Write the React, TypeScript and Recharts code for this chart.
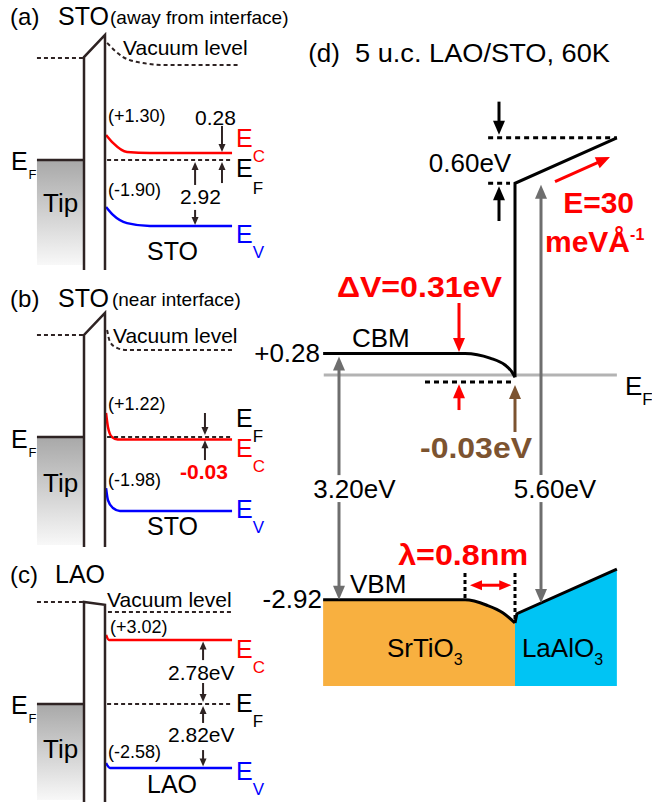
import React from 'react';
import {
  ComposedChart,
  Line,
  Area,
  XAxis,
  YAxis,
  ReferenceLine,
  ReferenceArea,
  ReferenceDot,
} from 'recharts';

const FONT = '"Liberation Sans", Arial, Helvetica, sans-serif';

// ---------------- Panel (d): distance d (nm, LAO/STO interface at 0) vs energy e (eV, EF = 0)
const dCbmSto = [
  { d: -3.07, e: 0.28 },
  { d: -0.8, e: 0.28 },
  { d: -0.4, e: 0.22 },
  { d: -0.16, e: 0.13 },
  { d: -0.05, e: 0.04 },
  { d: 0, e: -0.03 },
];
const dCbLao = [
  { d: 0, e: -0.03 },
  { d: 0, e: 2.49 },
  { d: 1.63, e: 3.08 },
];
const dValence = [
  { d: -3.07, sto: -2.92 },
  { d: -0.8, sto: -2.92 },
  { d: -0.45, sto: -2.99 },
  { d: -0.19, sto: -3.09 },
  { d: 0, sto: -3.22, lao: -3.22 },
  { d: 0.03, lao: -3.1 },
  { d: 1.63, lao: -2.52 },
];
const dFillBottom = -4.04;

// ---------------- Panel (a): STO away from interface
const aBarrier = [
  { d: 0, e: -4.58 },
  { d: 0, e: 4.29 },
  { d: 1, e: 5.21 },
  { d: 1, e: -4.58 },
];
const aVacuum = [
  { d: 1.1, e: 4.88 },
  { d: 1.86, e: 4.29 },
  { d: 2.81, e: 4.04 },
  { d: 3.86, e: 3.96 },
  { d: 7.43, e: 3.96 },
];
const aEc = [
  { d: 1.05, e: 1.04 },
  { d: 1.38, e: 0.71 },
  { d: 2.05, e: 0.33 },
  { d: 3.14, e: 0.29 },
  { d: 7.05, e: 0.29 },
];
const aEv = [
  { d: 1.05, e: -1.96 },
  { d: 1.38, e: -2.29 },
  { d: 2.05, e: -2.63 },
  { d: 3.14, e: -2.75 },
  { d: 7.05, e: -2.75 },
];

// ---------------- Panel (b): STO near interface
const bBarrier = [
  { d: 0, e: -4.58 },
  { d: 0, e: 4.25 },
  { d: 1, e: 5.17 },
  { d: 1, e: -4.58 },
];
const bVacuum = [
  { d: 1.1, e: 4.46 },
  { d: 1.24, e: 3.96 },
  { d: 1.57, e: 3.71 },
  { d: 1.95, e: 3.63 },
  { d: 7.05, e: 3.63 },
];
const bEc = [
  { d: 1.05, e: 1.0 },
  { d: 1.14, e: 0.42 },
  { d: 1.33, e: 0.0 },
  { d: 1.6, e: -0.1 },
  { d: 7.05, e: -0.1 },
];
const bEv = [
  { d: 1.05, e: -2.13 },
  { d: 1.14, e: -2.63 },
  { d: 1.38, e: -2.96 },
  { d: 1.71, e: -3.08 },
  { d: 7.05, e: -3.08 },
];

// ---------------- Panel (c): LAO
const cBarrier = [
  { d: 0, e: -4.08 },
  { d: 0, e: 4.25 },
  { d: 1, e: 4.13 },
  { d: 1, e: -4.08 },
];
const cVacuum = [
  { d: 1.14, e: 3.83 },
  { d: 7.05, e: 3.83 },
];
const cEc = [
  { d: 1.05, e: 2.88 },
  { d: 1.19, e: 2.67 },
  { d: 7.05, e: 2.67 },
];
const cEv = [
  { d: 1.05, e: -2.46 },
  { d: 1.24, e: -2.67 },
  { d: 7.05, e: -2.67 },
];

// ---------------- helpers
const DARK = '#2e2323';
const RED = '#ff0000';
const BLUE = '#0000ff';
const BROWN = '#7c5330';
const GRAY = '#6e6e6e';

const arrowShape =
  (color: string, width: number, head: number, half: number, both = false) =>
  (p: any) => {
    const { x1, y1, x2, y2 } = p;
    const dx = x2 - x1;
    const dy = y2 - y1;
    const L = Math.hypot(dx, dy) || 1;
    const ux = dx / L;
    const uy = dy / L;
    const nx = -uy;
    const ny = ux;
    const tri = (tx: number, ty: number, sx: number, sy: number) => {
      const bx = tx - sx * head;
      const by = ty - sy * head;
      return `${tx},${ty} ${bx + nx * half},${by + ny * half} ${bx - nx * half},${by - ny * half}`;
    };
    const sx = both ? x1 + ux * head * 0.8 : x1;
    const sy = both ? y1 + uy * head * 0.8 : y1;
    const ex = x2 - ux * head * 0.8;
    const ey = y2 - uy * head * 0.8;
    return (
      <g>
        <line x1={sx} y1={sy} x2={ex} y2={ey} stroke={color} strokeWidth={width} />
        <polygon points={tri(x2, y2, ux, uy)} fill={color} />
        {both ? <polygon points={tri(x1, y1, -ux, -uy)} fill={color} /> : null}
      </g>
    );
  };

const arrow = (
  key: string,
  from: [number, number],
  to: [number, number],
  color: string,
  width: number,
  head: number,
  half: number,
  both = false,
) => (
  <ReferenceLine
    key={key}
    segment={[
      { x: from[0], y: from[1] },
      { x: to[0], y: to[1] },
    ]}
    ifOverflow="visible"
    stroke={color}
    shape={arrowShape(color, width, head, half, both)}
  />
);

const seg = (
  key: string,
  from: [number, number],
  to: [number, number],
  color: string,
  width: number,
  dash?: string,
) => (
  <ReferenceLine
    key={key}
    segment={[
      { x: from[0], y: from[1] },
      { x: to[0], y: to[1] },
    ]}
    ifOverflow="visible"
    stroke={color}
    strokeWidth={width}
    strokeDasharray={dash}
  />
);

type NoteOpts = {
  size: number;
  weight?: string;
  fill?: string;
  anchor?: 'start' | 'middle' | 'end';
  len?: number;
};

const note = (key: string, x: number, y: number, content: React.ReactNode, o: NoteOpts) => (
  <ReferenceDot
    key={key}
    x={x}
    y={y}
    r={0}
    ifOverflow="visible"
    fill="none"
    stroke="none"
    shape={(p: any) => (
      <text
        x={p.cx}
        y={p.cy}
        fontFamily={FONT}
        fontSize={o.size}
        fontWeight={o.weight || 'normal'}
        fill={o.fill || '#000'}
        textAnchor={o.anchor || 'start'}
        textLength={o.len}
        lengthAdjust={o.len ? 'spacingAndGlyphs' : undefined}
      >
        {content}
      </text>
    )}
  />
);

const sub = (main: string, s: string, size: number, subSize: number, dy: number, dx = 0) => (
  <>
    <tspan>{main}</tspan>
    <tspan fontSize={subSize} dy={dy} dx={dx}>
      {s}
    </tspan>
  </>
);

const axes = (xd: [number, number], yd: [number, number]) => [
  <XAxis key="x" type="number" dataKey="d" domain={xd} hide allowDataOverflow />,
  <YAxis key="y" type="number" domain={yd} hide allowDataOverflow />,
];

const lineEl = (key: string, data: any[], color: string, width: number, dash?: string, type: any = 'monotone') => (
  <Line
    key={key}
    data={data}
    dataKey="e"
    type={type}
    stroke={color}
    strokeWidth={width}
    strokeDasharray={dash}
    dot={false}
    activeDot={false}
    isAnimationActive={false}
  />
);

const LX: [number, number] = [-4, 10.2857];
const M = { top: 0, right: 0, bottom: 0, left: 0 };

function tipFill(id: string, bottom: number) {
  return [
    <defs key={id + 'defs'}>
      <linearGradient id={id} x1="0" y1="0" x2="0" y2="1">
        <stop offset="0" stopColor="#a8a8a8" />
        <stop offset="1" stopColor="#f8f8f8" />
      </linearGradient>
    </defs>,
    <ReferenceArea
      key={id + 'area'}
      x1={-2.24}
      x2={-0.05}
      y1={bottom}
      y2={0}
      ifOverflow="visible"
      fill={`url(#${id})`}
      fillOpacity={1}
      stroke="none"
    />,
  ];
}

function PanelA() {
  return (
    <ComposedChart width={300} height={270} margin={M}>
      {axes(LX, [-4.583, 6.667])}
      {tipFill('tipA', -4.375)}
      {seg('tipEf', [-2.24, 0], [0, 0], DARK, 2.5)}
      {seg('tipVac', [-2.24, 4.25], [-0.05, 4.25], DARK, 2, '4 3')}
      {seg('ef', [1.1, 0], [7.05, 0], DARK, 2, '4 3')}
      {lineEl('vac', aVacuum, DARK, 2, '4 3')}
      {lineEl('ec', aEc, RED, 2.5)}
      {lineEl('ev', aEv, BLUE, 2.5)}
      {lineEl('bar', aBarrier, DARK, 2.5, undefined, 'linear')}
      {arrow('a1', [6.57, 1.42], [6.57, 0.33], DARK, 2, 8, 3.5)}
      {arrow('a2', [6.57, -0.96], [6.57, -0.08], DARK, 2, 8, 3.5)}
      {arrow('a3', [5.29, -1.04], [5.29, -0.08], DARK, 2, 8, 3.5)}
      {arrow('a4', [5.29, -2.08], [5.29, -2.71], DARK, 2, 8, 3.5)}
      {note('t1', -3.52, 5.625, '(a)', { size: 24 })}
      {note('t2', -1.24, 5.625, 'STO', { size: 25 })}
      {note('t3', 1.24, 5.67, '(away from interface)', { size: 19 })}
      {note('t4', 1.86, 4.375, 'Vacuum level', { size: 21 })}
      {note('t5', 1.14, 1.58, '(+1.30)', { size: 18 })}
      {note('t6', 5.29, 1.46, '0.28', { size: 21 })}
      {note('t7', 1.14, -1.5, '(-1.90)', { size: 18 })}
      {note('t8', 4.57, -1.83, '2.92', { size: 21 })}
      {note('t9', 7.24, 0.54, sub('E', 'C', 25, 17, 15), { size: 25, fill: RED })}
      {note('t10', 7.24, -0.71, sub('E', 'F', 25, 17, 17), { size: 25 })}
      {note('t11', 7.24, -3.46, sub('E', 'V', 25, 17, 15), { size: 25, fill: BLUE })}
      {note('t12', -3.48, -0.42, sub('E', 'F', 25, 13, 9, 1), { size: 25 })}
      {note('t13', -1.95, -2.17, 'Tip', { size: 26 })}
      {note('t14', 3.0, -4.17, 'STO', { size: 25 })}
    </ComposedChart>
  );
}

function PanelB() {
  return (
    <ComposedChart width={300} height={280} margin={M}>
      {axes(LX, [-4.708, 6.958])}
      {tipFill('tipB', -4.5)}
      {seg('tipEf', [-2.24, 0], [0, 0], DARK, 2.5)}
      {seg('tipVac', [-2.24, 4.25], [-0.05, 4.25], DARK, 2, '4 3')}
      {lineEl('vac', bVacuum, DARK, 2, '4 3')}
      {lineEl('ec', bEc, RED, 2.5)}
      {seg('ef', [1.1, 0], [7.05, 0], DARK, 2, '4 3')}
      {lineEl('ev', bEv, BLUE, 2.5)}
      {lineEl('bar', bBarrier, DARK, 2.5, undefined, 'linear')}
      {arrow('b1', [5.76, 1.0], [5.76, 0.08], DARK, 2, 8, 3.5)}
      {arrow('b2', [5.76, -0.96], [5.76, -0.14], DARK, 2, 8, 3.5)}
      {note('t1', -3.52, 5.42, '(b)', { size: 24 })}
      {note('t2', -1.24, 5.42, 'STO', { size: 25 })}
      {note('t3', 1.33, 5.46, '(near interface)', { size: 19 })}
      {note('t4', 1.38, 3.92, 'Vacuum level', { size: 21 })}
      {note('t5', 1.14, 1.125, '(+1.22)', { size: 18 })}
      {note('t6', 1.14, -2.04, '(-1.98)', { size: 18 })}
      {note('t7', 7.24, 0.42, sub('E', 'F', 25, 17, 15), { size: 25 })}
      {note('t8', 7.24, -0.83, sub('E', 'C', 25, 17, 15), { size: 25, fill: RED })}
      {note('t9', 4.57, -1.75, '-0.03', { size: 21, weight: 'bold', fill: RED })}
      {note('t10', 7.24, -3.375, sub('E', 'V', 25, 17, 15), { size: 25, fill: BLUE })}
      {note('t11', -3.48, -0.46, sub('E', 'F', 25, 13, 9, 1), { size: 25 })}
      {note('t12', -1.95, -2.29, 'Tip', { size: 26 })}
      {note('t13', 3.0, -4.08, 'STO', { size: 25 })}
    </ComposedChart>
  );
}

function PanelC() {
  return (
    <ComposedChart width={300} height={257} margin={M}>
      {axes(LX, [-4.292, 6.417])}
      {tipFill('tipC', -4.0)}
      {seg('tipEf', [-2.24, 0], [0, 0], DARK, 2.5)}
      {seg('tipVac', [-2.24, 4.25], [-0.05, 4.25], DARK, 2, '4 3')}
      {lineEl('vac', cVacuum, DARK, 2, '4 3', 'linear')}
      {seg('ef', [1.1, 0], [7.05, 0], DARK, 2, '4 3')}
      {lineEl('ec', cEc, RED, 2.5)}
      {lineEl('ev', cEv, BLUE, 2.5)}
      {lineEl('bar', cBarrier, DARK, 2.5, undefined, 'linear')}
      {arrow('c1', [5.67, 1.83], [5.67, 2.6], DARK, 2, 8, 3.5)}
      {arrow('c2', [5.67, 0.875], [5.67, 0.08], DARK, 2, 8, 3.5)}
      {arrow('c3', [5.67, -0.79], [5.67, -0.08], DARK, 2, 8, 3.5)}
      {arrow('c4', [5.67, -1.92], [5.67, -2.6], DARK, 2, 8, 3.5)}
      {note('t1', -3.52, 5.04, '(c)', { size: 24 })}
      {note('t2', -1.38, 5.04, 'LAO', { size: 25 })}
      {note('t3', 1.1, 4.04, 'Vacuum level', { size: 21 })}
      {note('t4', 1.24, 2.96, '(+3.02)', { size: 18 })}
      {note('t5', 4.0, 1.0, '2.78eV', { size: 21 })}
      {note('t6', 4.0, -1.58, '2.82eV', { size: 21 })}
      {note('t7', 1.14, -2.25, '(-2.58)', { size: 18 })}
      {note('t8', 7.24, 1.92, sub('E', 'C', 25, 17, 15), { size: 25, fill: RED })}
      {note('t9', 7.24, -0.33, sub('E', 'F', 25, 17, 15), { size: 25 })}
      {note('t10', 7.24, -3.17, sub('E', 'V', 25, 17, 15), { size: 25, fill: BLUE })}
      {note('t11', -3.48, -0.42, sub('E', 'F', 25, 13, 9, 1), { size: 25 })}
      {note('t12', -1.95, -2.25, 'Tip', { size: 26 })}
      {note('t13', 3.0, -3.71, 'LAO', { size: 25 })}
    </ComposedChart>
  );
}

function PanelD() {
  return (
    <ComposedChart width={402} height={807} data={dValence} margin={M}>
      {axes([-4.24, 2.192], [-5.61, 4.87])}
      {seg('ef', [-3.06, 0], [1.63, 0], '#b3b3b3', 3)}
      <Area
        dataKey="sto"
        type="monotone"
        baseValue={dFillBottom}
        stroke="#000"
        strokeWidth={3}
        fill="#f8b040"
        fillOpacity={1}
        dot={false}
        activeDot={false}
        isAnimationActive={false}
      />
      <Area
        dataKey="lao"
        type="linear"
        baseValue={dFillBottom}
        stroke="#000"
        strokeWidth={3}
        fill="#00c4f4"
        fillOpacity={1}
        dot={false}
        activeDot={false}
        isAnimationActive={false}
      />
      {lineEl('cbm', dCbmSto, '#000', 3)}
      {lineEl('cblao', dCbLao, '#000', 3, undefined, 'linear')}
      {seg('dTop', [-0.43, 3.08], [1.63, 3.08], '#000', 3, '5 4')}
      {seg('dMid', [-0.43, 2.49], [-0.08, 2.49], '#000', 3, '5 4')}
      {seg('dLow', [-1.44, -0.09], [0, -0.09], '#000', 3, '5 4')}
      {seg('dV1', [-0.8, -2.57], [-0.8, -2.92], '#000', 3, '4 3')}
      {seg('dV2', [0, -2.57], [0, -3.18], '#000', 3, '4 3')}
      {arrow('k1', [-0.256, 3.55], [-0.256, 3.12], '#000', 3, 14, 6)}
      {arrow('k2', [-0.256, 2.0], [-0.256, 2.45], '#000', 3, 14, 6)}
      {arrow('r1', [0.64, 2.51], [1.52, 2.83], RED, 3, 14, 6)}
      {arrow('r2', [-0.896, 0.935], [-0.896, 0.3], RED, 3, 14, 6)}
      {arrow('r3', [-0.896, -0.455], [-0.896, -0.12], RED, 3, 14, 6)}
      {arrow('br', [0, -0.74], [0, -0.13], BROWN, 3, 14, 6)}
      {arrow('g1', [-2.816, -1.3], [-2.816, 0.24], GRAY, 3, 14, 6)}
      {arrow('g2', [-2.816, -1.65], [-2.816, -2.92], GRAY, 3, 14, 6)}
      {arrow('g3', [0.416, -1.3], [0.416, 2.47], GRAY, 3, 14, 6)}
      {arrow('g4', [0.416, -1.65], [0.416, -2.96], GRAY, 3, 14, 6)}
      {arrow('lam', [-0.72, -2.73], [-0.06, -2.73], RED, 3, 12, 5, true)}
      {note('t1', -3.31, 4.065, '(d)', { size: 26 })}
      {note('t2', -2.56, 4.065, '5 u.c. LAO/STO, 60K', { size: 26, len: 255 })}
      {note('t3', -0.72, 2.64, '0.60eV', { size: 26, anchor: 'middle' })}
      {note('t4', 0.77, 2.1, 'E=30', { size: 30, weight: 'bold', fill: RED })}
      {note(
        't5',
        0.48,
        1.6,
        <>
          <tspan>meVÅ</tspan>
          <tspan fontSize={16} dy={-12}>
            -1
          </tspan>
        </>,
        { size: 30, weight: 'bold', fill: RED },
      )}
      {note('t6', -2.85, 1.01, 'ΔV=0.31eV', { size: 30, weight: 'bold', fill: RED, len: 165 })}
      {note('t7', -2.61, 0.364, 'CBM', { size: 26 })}
      {note('t8', -3.12, 0.169, '+0.28', { size: 26, anchor: 'end' })}
      {note('t9', 1.76, -0.26, sub('E', 'F', 26, 17, 10), { size: 26 })}
      {note('t10', -1.52, -1.08, '-0.03eV', { size: 30, weight: 'bold', fill: BROWN, len: 112 })}
      {note('t11', -2.57, -1.6, '3.20eV', { size: 26, anchor: 'middle' })}
      {note('t12', 0.64, -1.6, '5.60eV', { size: 26, anchor: 'middle' })}
      {note('t13', -1.87, -2.47, 'λ=0.8nm', { size: 30, weight: 'bold', fill: RED, len: 130 })}
      {note('t14', -2.64, -2.83, 'VBM', { size: 26 })}
      {note('t15', -3.09, -3.03, '-2.92', { size: 26, anchor: 'end' })}
      {note(
        't16',
        -2.05,
        -3.66,
        <>
          <tspan>SrTiO</tspan>
          <tspan fontSize={16} dy={8}>
            3
          </tspan>
        </>,
        { size: 26 },
      )}
      {note(
        't17',
        0.11,
        -3.66,
        <>
          <tspan>LaAlO</tspan>
          <tspan fontSize={16} dy={8}>
            3
          </tspan>
        </>,
        { size: 26 },
      )}
    </ComposedChart>
  );
}

export default function App() {
  return (
    <div
      style={{
        position: 'absolute',
        left: 0,
        top: 0,
        width: 652,
        height: 807,
        background: '#fff',
        overflow: 'hidden',
      }}
    >
      <div style={{ position: 'absolute', left: 250, top: 0 }}>
        <PanelD />
      </div>
      <div style={{ position: 'absolute', left: 0, top: 0 }}>
        <PanelA />
      </div>
      <div style={{ position: 'absolute', left: 0, top: 270 }}>
        <PanelB />
      </div>
      <div style={{ position: 'absolute', left: 0, top: 550 }}>
        <PanelC />
      </div>
    </div>
  );
}
